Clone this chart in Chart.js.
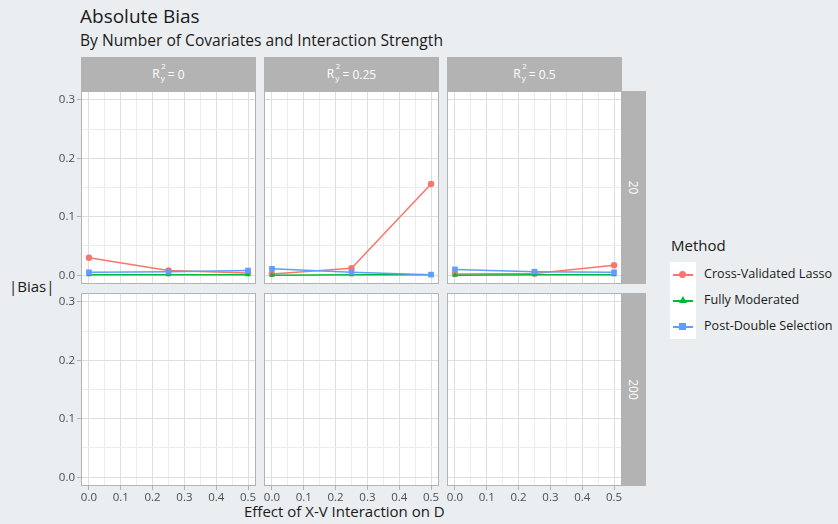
<!DOCTYPE html>
<html>
<head>
<meta charset="utf-8">
<script src="https://cdn.jsdelivr.net/npm/chart.js@4"></script>
<style>
  body { margin: 0; background: #ebeef0; font-family: "Open Sans", "Lato", sans-serif; }
  #plot { position: relative; width: 838px; height: 524px; overflow: hidden; }
  canvas { position: absolute; }
  .title { position: absolute; left: 80px; top: 3px; font-size: 19px; color: #1a1a1a; }
  .subtitle { position: absolute; left: 80px; top: 29px; font-size: 15.6px; color: #1a1a1a; }
  .strip { position: absolute; background: #b3b3b3; color: #fff; font-size: 12px;
           display: flex; align-items: center; justify-content: center; }
  .strip .rot { transform: rotate(90deg); white-space: nowrap; }
  .r2 { display: inline-block; position: relative; }
  .r2 sup { position: absolute; left: 9px; top: -5px; font-size: 8px; }
  .r2 sub { font-size: 8px; margin-left: 1px; vertical-align: -3px; }
  .axis-title { position: absolute; font-size: 15px; color: #1a1a1a; }
  .legend-title { position: absolute; left: 671px; top: 235px; font-size: 15px; color: #1a1a1a; }
  .legend-keys { position: absolute; left: 670px; top: 262px; width: 26px; height: 77px; background: #fff; }
  .key { position: absolute; left: 3px; width: 20px; height: 2px; }
  .key .mk { position: absolute; left: 6px; top: -3px; width: 7px; height: 7px; }
  .legend-label { position: absolute; left: 704px; font-size: 12.6px; color: #1a1a1a; }
</style>
</head>
<body>
<div id="plot">
  <div class="title">Absolute Bias</div>
  <div class="subtitle">By Number of Covariates and Interaction Strength</div>
  <div class="axis-title" style="left:9px; top:276px;">|Bias|</div>
  <div class="axis-title" style="left:244px; top:501px;">Effect of X-V Interaction on D</div>
</div>
<script>
// interaction strengths on the x axis
const interaction = [0, 0.25, 0.5];
// facet labels
const r2Levels = ['0', '0.25', '0.5'];
const covariateCounts = ['20', '200'];
const methods = ['Cross-Validated Lasso', 'Fully Moderated', 'Post-Double Selection'];
const methodColors = ['#F8766D', '#00BA38', '#619CFF'];
const methodShapes = ['circle', 'triangle', 'rect'];

// |bias| with 20 covariates, one row per R2_y level
const lassoBias20 = [
  [0.030, 0.008, 0.004],
  [0.002, 0.012, 0.156],
  [0.002, 0.003, 0.017]
];
const moderatedBias20 = [
  [0.001, 0.001, 0.001],
  [0.000, 0.001, 0.001],
  [0.000, 0.001, 0.001]
];
const pdsBias20 = [
  [0.005, 0.006, 0.008],
  [0.011, 0.005, 0.001],
  [0.010, 0.006, 0.005]
];
// no results for 200 covariates
const lassoBias200 = [[], [], []];
const moderatedBias200 = [[], [], []];
const pdsBias200 = [[], [], []];

const plot = document.getElementById('plot');
const colLeft = [81, 264, 447];
const colWidth = 175;
const rowTop = [91, 293];
const rowHeight = 193;
const yAxisW = 44;
const xAxisH = 28;
const tickFont = { family: 'Open Sans', size: 11.5 };

function addDiv(cls, style, html) {
  const d = document.createElement('div');
  d.className = cls;
  Object.assign(d.style, style);
  d.innerHTML = html;
  plot.appendChild(d);
  return d;
}

// facet strips
r2Levels.forEach((lv, c) => {
  addDiv('strip', { left: colLeft[c] + 'px', top: '57px', width: colWidth + 'px', height: '34px' },
    '<span class="r2">R<sup>2</sup><sub>y</sub></span>&nbsp;= ' + lv);
});
covariateCounts.forEach((n, r) => {
  addDiv('strip', { left: '621px', top: rowTop[r] + 'px', width: '25px', height: rowHeight + 'px' },
    '<span class="rot">' + n + '</span>');
});

// legend
addDiv('legend-title', {}, 'Method');
const keys = addDiv('legend-keys', {}, '');
methods.forEach((m, i) => {
  const k = document.createElement('div');
  k.className = 'key';
  k.style.top = (12 + i * 26) + 'px';
  k.style.background = methodColors[i];
  const mk = document.createElement('div');
  mk.className = 'mk';
  if (methodShapes[i] === 'circle') {
    mk.style.background = methodColors[i];
    mk.style.borderRadius = '50%';
  } else if (methodShapes[i] === 'rect') {
    mk.style.background = methodColors[i];
  } else {
    Object.assign(mk.style, { width: '0', height: '0', top: '-4px', left: '6px',
      borderLeft: '4px solid transparent', borderRight: '4px solid transparent',
      borderBottom: '7px solid ' + methodColors[i] });
  }
  k.appendChild(mk);
  keys.appendChild(k);
  addDiv('legend-label', { top: (265 + i * 26) + 'px' }, m);
});

// white panel fill underneath, grey border on top
const panelBorder = {
  id: 'panelBorder',
  beforeDraw(chart) {
    const a = chart.chartArea;
    chart.ctx.save();
    chart.ctx.fillStyle = '#ffffff';
    chart.ctx.fillRect(a.left, a.top, a.right - a.left, a.bottom - a.top);
    chart.ctx.restore();
  },
  afterDraw(chart) {
    const a = chart.chartArea;
    const ctx = chart.ctx;
    ctx.save();
    ctx.strokeStyle = '#b3b3b3';
    ctx.lineWidth = 1;
    ctx.strokeRect(a.left + 0.5, a.top + 0.5, a.right - a.left - 1, a.bottom - a.top - 1);
    ctx.restore();
  }
};

function isMajor(v, step) {
  return Math.abs(v / step - Math.round(v / step)) < 1e-6;
}

function noPadding(s) {
  s.paddingLeft = s.paddingRight = s.paddingTop = s.paddingBottom = 0;
}

function makePanel(row, col, series) {
  const showY = col === 0;
  const showX = row === 1;
  const cv = document.createElement('canvas');
  const w = colWidth + (showY ? yAxisW : 0);
  const h = rowHeight + (showX ? xAxisH : 0);
  cv.width = w;
  cv.height = h;
  cv.style.left = (colLeft[col] - (showY ? yAxisW : 0)) + 'px';
  cv.style.top = rowTop[row] + 'px';
  plot.appendChild(cv);

  const datasets = series.map((vals, i) => ({
    label: methods[i],
    data: vals.map((v, j) => ({ x: interaction[j], y: v })),
    borderColor: methodColors[i],
    backgroundColor: methodColors[i],
    borderWidth: 1.5,
    pointStyle: methodShapes[i],
    pointRadius: methodShapes[i] === 'rect' ? 4 : 3.2,
    pointBorderWidth: 0,
    clip: 8,
    order: 3 - i
  }));

  new Chart(cv, {
    type: 'line',
    data: { datasets },
    plugins: [panelBorder],
    options: {
      responsive: false,
      animation: false,
      layout: { padding: 0, autoPadding: false },
      plugins: { legend: { display: false }, tooltip: { enabled: false } },
      scales: {
        x: {
          type: 'linear',
          min: -0.025,
          max: 0.525,
          afterBuildTicks: s => { s.ticks = []; for (let i = 0; i <= 10; i++) s.ticks.push({ value: i * 0.05 }); },
          afterFit: s => { s.height = showX ? xAxisH : 0; noPadding(s); },
          border: { display: false },
          grid: {
            color: c => isMajor(c.tick.value, 0.1) ? '#dedede' : '#ececec',
            lineWidth: 1,
            drawTicks: showX,
            tickLength: 4,
            tickColor: c => isMajor(c.tick.value, 0.1) ? '#b3b3b3' : 'rgba(0,0,0,0)'
          },
          ticks: {
            display: showX,
            autoSkip: false,
            maxRotation: 0,
            padding: 1,
            color: '#4d4d4d',
            font: tickFont,
            callback: v => isMajor(v, 0.1) ? v.toFixed(1) : ''
          }
        },
        y: {
          type: 'linear',
          min: -0.015,
          max: 0.315,
          afterBuildTicks: s => { s.ticks = []; for (let i = 0; i <= 6; i++) s.ticks.push({ value: i * 0.05 }); },
          afterFit: s => { s.width = showY ? yAxisW : 0; noPadding(s); },
          border: { display: false },
          grid: {
            color: c => isMajor(c.tick.value, 0.1) ? '#dedede' : '#ececec',
            lineWidth: 1,
            drawTicks: showY,
            tickLength: 4,
            tickColor: c => isMajor(c.tick.value, 0.1) ? '#b3b3b3' : 'rgba(0,0,0,0)'
          },
          ticks: {
            display: showY,
            autoSkip: false,
            padding: 2,
            color: '#4d4d4d',
            font: tickFont,
            callback: v => isMajor(v, 0.1) ? v.toFixed(1) : ''
          }
        }
      }
    }
  });
}

r2Levels.forEach((lv, c) => {
  makePanel(0, c, [lassoBias20[c], moderatedBias20[c], pdsBias20[c]]);
  makePanel(1, c, [lassoBias200[c], moderatedBias200[c], pdsBias200[c]]);
});
</script>
</body>
</html>
